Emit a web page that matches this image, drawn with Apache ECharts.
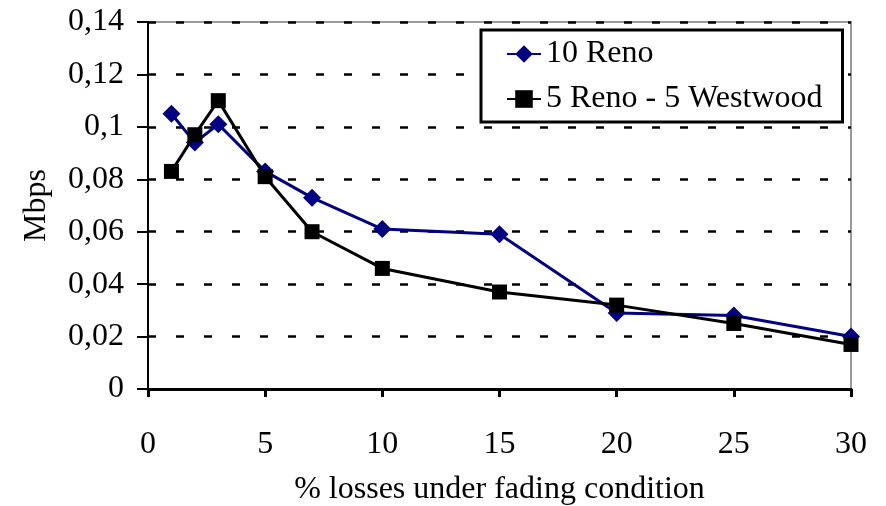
<!DOCTYPE html>
<html>
<head>
<meta charset="utf-8">
<script src="https://cdn.jsdelivr.net/npm/echarts@6/dist/echarts.min.js"></script>
<style>
  html, body { margin: 0; padding: 0; background: #fff; }
  #chart { width: 886px; height: 506px; }
</style>
</head>
<body>
<div id="chart"></div>
<script>
// Throughput per flow versus loss rate on the faded link
const lossPercent = [1, 2, 3, 5, 7, 10, 15, 20, 25, 30];
const renoOnly = [0.105, 0.094, 0.101, 0.083, 0.073, 0.061, 0.059, 0.029, 0.028, 0.020];
const renoWestwood = [0.083, 0.097, 0.110, 0.081, 0.060, 0.046, 0.037, 0.032, 0.025, 0.017];
const seriesNames = ['10 Reno', '5 Reno - 5 Westwood'];
const xAxisTitle = '% losses under fading condition';
const yAxisTitle = 'Mbps';

const pairs = (xs, ys) => xs.map((x, i) => [x, ys[i]]);
const serif = 'Liberation Serif';
const fontSize = 32;
const commaDecimal = v => String(+v.toFixed(2)).replace('.', ',');

const chart = echarts.init(document.getElementById('chart'), null, { renderer: 'canvas' });

chart.setOption({
  animation: false,
  backgroundColor: '#fff',
  textStyle: { fontFamily: serif, color: '#000' },
  grid: {
    left: 148, right: 35, top: 22, bottom: 117,
    outerBoundsMode: 'none',
    containLabel: false,
    show: true, borderColor: '#9a9a9a', borderWidth: 2, backgroundColor: 'transparent'
  },
  legend: {
    orient: 'vertical',
    left: 481, top: 30,
    padding: [8, 20, 7, 25],
    itemGap: 13,
    itemWidth: 34, itemHeight: 22,
    backgroundColor: '#fff',
    borderColor: '#000', borderWidth: 3,
    textStyle: { fontFamily: serif, fontSize: fontSize, color: '#000' },
    data: seriesNames
  },
  xAxis: {
    type: 'value',
    min: 0, max: 30, interval: 5,
    name: xAxisTitle,
    nameLocation: 'middle',
    nameGap: 85,
    nameTextStyle: { fontFamily: serif, fontSize: fontSize, color: '#000' },
    axisLine: { onZero: false, lineStyle: { color: '#000', width: 3 } },
    axisTick: { show: true, inside: false, length: 8, lineStyle: { color: '#000', width: 3 } },
    axisLabel: { fontFamily: serif, fontSize: fontSize, color: '#000', margin: 40 },
    splitLine: { show: false }
  },
  yAxis: {
    type: 'value',
    min: 0, max: 0.14, interval: 0.02,
    name: yAxisTitle,
    nameLocation: 'middle',
    nameGap: 95,
    nameRotate: 90,
    nameTextStyle: { fontFamily: serif, fontSize: fontSize, color: '#000' },
    axisLine: { show: true, onZero: false, lineStyle: { color: '#000', width: 2 } },
    axisTick: { show: true, inside: false, length: 11, lineStyle: { color: '#000', width: 2 } },
    axisLabel: { fontFamily: serif, fontSize: fontSize, color: '#000', margin: 24, formatter: commaDecimal },
    splitLine: { show: true, lineStyle: { color: '#000', width: 2.5, type: [8, 20], dashOffset: 0 } }
  },
  series: [
    {
      name: seriesNames[0],
      type: 'line',
      data: pairs(lossPercent, renoOnly),
      symbol: 'diamond',
      symbolSize: [18, 18],
      color: '#000080',
      lineStyle: { color: '#000080', width: 3 },
      itemStyle: { color: '#000080' },
      z: 3
    },
    {
      name: seriesNames[1],
      type: 'line',
      data: pairs(lossPercent, renoWestwood),
      symbol: 'rect',
      symbolSize: 15,
      color: '#000',
      lineStyle: { color: '#000', width: 3 },
      itemStyle: { color: '#000' },
      z: 4
    }
  ]
});
</script>
</body>
</html>
